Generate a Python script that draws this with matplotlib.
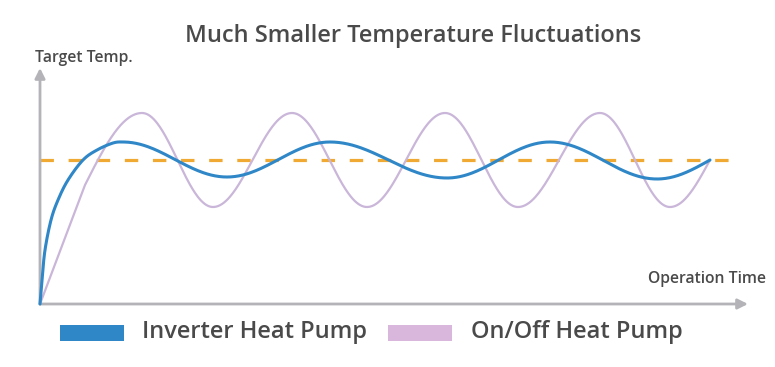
"""
Inverter vs On/Off heat pump: temperature fluctuation sketch
"""
import numpy as np
import matplotlib
matplotlib.use('Agg')
import matplotlib.pyplot as plt
from matplotlib.patches import Rectangle

plt.rcParams['font.family'] = ['Open Sans', 'DejaVu Sans']

# Data (time / temperature in arbitrary units)
target_temp = 14.4
target_end = 69.2

# Inverter: initial rise, then gentle swings around the target
inv_t = [0, 0.2, 0.5, 1.1, 1.8, 2.8, 4.3, 5.7, 7.3, 8.3, 18.7, 29.0, 40.7, 51.0, 61.7, 67.0]
inv_temp = [0, 2.4, 5.4, 8.4, 10.4, 12.4, 14.4, 15.4, 16.1, 16.2, 12.7, 16.2, 12.6, 16.2, 12.5, 14.4]
inv_shape = ['spline'] * 9 + ['half'] * 5 + ['in']

# On/Off: ramp, then large swings around the target
onoff_t = [0, 4.5, 10.2, 17.3, 25.2, 32.7, 40.5, 47.8, 56.0, 63.0, 67.0]
onoff_temp = [0, 11.9, 19.1, 9.7, 19.1, 9.7, 19.1, 9.7, 19.1, 9.7, 14.4]
onoff_shape = ['line', 'out'] + ['half'] * 7 + ['in']

legend_labels = ['Inverter Heat Pump', 'On/Off Heat Pump']
blue = '#2f87c7'
purple = '#c9b6d9'
purple_patch = '#d9b6dc'
orange = '#f0a932'
grey_axis = '#b4b4b8'
text_col = '#4a4a4a'


def smooth(xs, ys, kinds, n=80):
    # draw each segment between read knots: sine easing or a Catmull-Rom spline
    xs, ys = np.asarray(xs, float), np.asarray(ys, float)
    px, py = [xs[0]], [ys[0]]
    for i, kind in enumerate(kinds):
        s = np.linspace(0, 1, n)[1:]
        if kind == 'spline':
            p0 = (xs[max(i - 1, 0)], ys[max(i - 1, 0)])
            p1 = (xs[i], ys[i])
            p2 = (xs[i + 1], ys[i + 1])
            if i + 1 < len(kinds) and kinds[i + 1] == 'spline':
                p3 = (xs[i + 2], ys[i + 2])
            else:
                # flat tangent where the spline meets an extremum
                p3 = (2 * p2[0] - p1[0], p1[1])
            for k, out in ((0, px), (1, py)):
                a, b, c, d = p0[k], p1[k], p2[k], p3[k]
                out.extend(0.5 * (2 * b + (-a + c) * s
                                  + (2 * a - 5 * b + 4 * c - d) * s ** 2
                                  + (-a + 3 * b - 3 * c + d) * s ** 3))
            continue
        if kind == 'line':
            f = s
        elif kind == 'half':
            f = (1 - np.cos(np.pi * s)) / 2
        elif kind == 'in':
            f = 1 - np.cos(np.pi / 2 * s)
        else:
            f = np.sin(np.pi / 2 * s)
        px.extend(xs[i] + (xs[i + 1] - xs[i]) * s)
        py.extend(ys[i] + (ys[i + 1] - ys[i]) * f)
    return np.array(px), np.array(py)


W, H = 775, 367
fig = plt.figure(figsize=(W / 100, H / 100), dpi=100)
fig.patch.set_facecolor('white')

# axes placed so that origin sits at (40, 304) px
x0, y0, x1, y1 = 40, 304, 748, 68
ax = fig.add_axes([x0 / W, 1 - y0 / H, (x1 - x0) / W, (y0 - y1) / H])
ax.set_xlim(0, (x1 - x0) / 10)
ax.set_ylim(0, (y0 - y1) / 10)
ax.axis('off')

# axis arrows
arrow_kw = dict(arrowstyle='-|>', color=grey_axis, lw=2, mutation_scale=15, shrinkA=0, shrinkB=0)
ax.annotate('', xy=(1, 0), xytext=(0, 0), xycoords='axes fraction', arrowprops=arrow_kw)
ax.annotate('', xy=(0, 1), xytext=(0, 0), xycoords='axes fraction', arrowprops=arrow_kw)

# target line
ax.plot([0, target_end], [target_temp, target_temp], color=orange, lw=2.3,
        dashes=(4.2, 4.6), clip_on=False, zorder=2)

t, y = smooth(onoff_t, onoff_temp, onoff_shape)
ax.plot(t, y, color=purple, lw=1.6, clip_on=False, zorder=3, solid_capstyle='round')
t, y = smooth(inv_t, inv_temp, inv_shape)
ax.plot(t, y, color=blue, lw=2.2, clip_on=False, zorder=4, solid_capstyle='round')

# texts
fig.text(413 / W, 1 - 42 / H, 'Much Smaller Temperature Fluctuations', ha='center',
         va='baseline', fontsize=17.0, color=text_col, fontweight='semibold')
fig.text(35 / W, 1 - 62.5 / H, 'Target Temp.', ha='left', va='baseline',
         fontsize=11.3, color=text_col, fontweight='semibold')
fig.text(766 / W, 1 - 283 / H, 'Operation Time', ha='right', va='baseline',
         fontsize=11.3, color=text_col, fontweight='semibold')

# legend drawn by hand
for (rx, tx), col, lab in zip([(60, 142), (388, 471)], [blue, purple_patch], legend_labels):
    fig.add_artist(Rectangle((rx / W, 1 - 341 / H), 64 / W, 16 / H,
                             transform=fig.transFigure, color=col, lw=0))
    fig.text(tx / W, 1 - 338 / H, lab, ha='left', va='baseline', fontsize=17.0,
             color=text_col, fontweight='semibold')

fig.savefig('out.png', dpi=100)
